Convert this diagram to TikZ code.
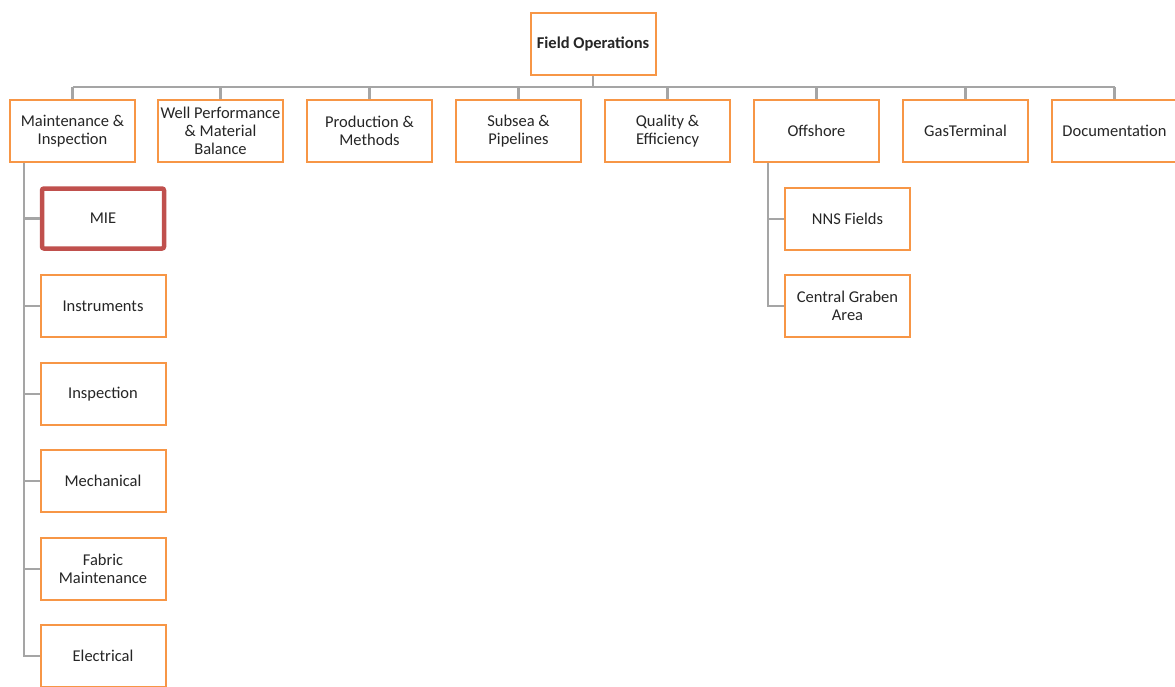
\documentclass[tikz,border=0pt]{standalone}
\usepackage{fontspec}
\setmainfont{Carlito}
\begin{document}
\begin{tikzpicture}[x=1pt,y=-1pt,
  box/.style={draw=boxline, line width=2pt, fill=white,
    minimum width=125pt, minimum height=62pt, inner sep=1pt, align=center,
    font=\fontsize{16.5}{18}\selectfont, text=black!85},
  hot/.style={box, draw=hotline, line width=4.5pt, rounded corners=2pt,
    minimum width=122pt, minimum height=60pt},
  link/.style={draw=linkgray, line width=2.4pt}]
\definecolor{boxline}{HTML}{F79646}
\definecolor{hotline}{HTML}{C0504D}
\definecolor{linkgray}{HTML}{A5A5A5}
\useasboundingbox (0,0) rectangle (1175,686);

% anchor points for the bus and the two vertical spines
\coordinate (bus) at (593,87);
\coordinate (mispine) at (24,0);
\coordinate (offspine) at (768,0);

% top level
\node[box, font=\bfseries\fontsize{16.5}{18}\selectfont] (root) at (593,43.5) {Field Operations};

% department row
\node[box] (mi)  at (72.5,131)   {Maintenance \&\\Inspection};
\node[box] (wp)  at (220.5,131)  {Well Performance\\\& Material\\Balance};
\node[box] (pm)  at (369.5,131)  {Production \&\\Methods};
\node[box] (sp)  at (518.5,131)  {Subsea \&\\Pipelines};
\node[box] (qe)  at (667.5,131)  {Quality \&\\Efficiency};
\node[box] (off) at (816.5,131)  {Offshore};
\node[box] (gt)  at (965.5,131)  {GasTerminal};
\node[box] (doc) at (1114.5,131) {Documentation};

\draw[link] (root.south) -- (bus);
\draw[link] (mi.north |- bus) -- (doc.north |- bus);
\foreach \n in {mi,wp,pm,sp,qe,off,gt,doc}
  \draw[link] (\n.north |- bus) -- (\n.north);

% maintenance & inspection teams
\node[hot] (mie) at (103,218.5) {MIE};
\node[box] (ins) at (103,306)   {Instruments};
\node[box] (isp) at (103,394)   {Inspection};
\node[box] (mec) at (103,481)   {Mechanical};
\node[box] (fab) at (103,569)   {Fabric\\Maintenance};
\node[box] (ele) at (103,656)   {Electrical};
\draw[link] (mispine |- mi.south) -- (mispine |- ele.west) -- (ele.west);
\foreach \n in {mie,ins,isp,mec,fab}
  \draw[link] (mispine |- \n.west) -- (\n.west);

% offshore areas
\node[box] (nns) at (847.5,219) {NNS Fields};
\node[box] (cga) at (847.5,306) {Central Graben\\Area};
\draw[link] (offspine |- off.south) -- (offspine |- cga.west) -- (cga.west);
\draw[link] (offspine |- nns.west) -- (nns.west);
\end{tikzpicture}
\end{document}
